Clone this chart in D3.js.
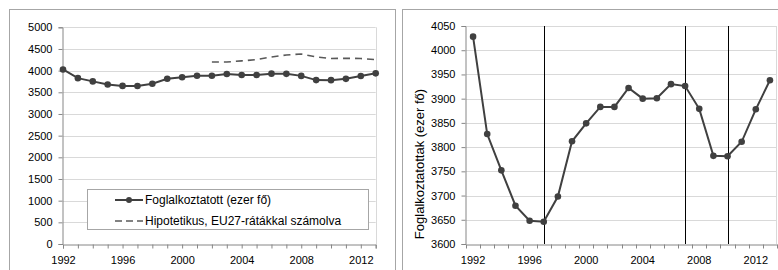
<!DOCTYPE html>
<html>
<head>
<meta charset="utf-8">
<script src="https://cdn.jsdelivr.net/npm/d3@7"></script>
<style>
  body { margin: 0; background: #fff; }
  svg { display: block; font-family: "Liberation Sans", Arial, sans-serif; }
</style>
</head>
<body>
<div id="container"></div>
<script>
// years and series
var years = d3.range(1992, 2014);
var employed = [4028, 3827, 3752, 3679, 3648, 3646, 3698, 3812, 3849, 3883, 3883,
                3922, 3900, 3901, 3930, 3926, 3879, 3782, 3781, 3811, 3878, 3938];
var hypoYears = d3.range(2002, 2014);
var hypothetical = [4200, 4200, 4225, 4255, 4315, 4360, 4385, 4315, 4280, 4285, 4280, 4255];
var leftTicksY = [0, 500, 1000, 1500, 2000, 2500, 3000, 3500, 4000, 4500, 5000];
var rightTicksY = [3600, 3650, 3700, 3750, 3800, 3850, 3900, 3950, 4000, 4050];
var labelYears = [1992, 1996, 2000, 2004, 2008, 2012];
var markerYears = [1997, 2007, 2010];
var legendLabels = ["Foglalkoztatott (ezer fő)", "Hipotetikus, EU27-rátákkal számolva"];
var yTitle = "Foglalkoztatottak (ezer fő)";

var width = 778, height = 270;
var lineColor = "#404040";
var gridColor = "#d9d9d9";
var axisColor = "#868686";

var svg = d3.select("#container")
    .append("svg")
    .attr("width", width)
    .attr("height", height);

// panel frames
svg.append("rect").attr("x", 9.5).attr("y", 9.5).attr("width", 386).attr("height", 300)
    .attr("fill", "none").attr("stroke", "#a6a6a6");
svg.append("rect").attr("x", 402.5).attr("y", 9.5).attr("width", 400).attr("height", 300)
    .attr("fill", "none").attr("stroke", "#a6a6a6");

function tickText(a) {
    a.attr("font-family", null);
    a.select(".domain").attr("stroke", axisColor);
    a.selectAll(".tick line").attr("stroke", axisColor);
    a.selectAll("text").attr("font-size", 11).attr("fill", "#000");
}

// ---------- left chart ----------
var L = {left: 63, right: 375.7, top: 27.3, bottom: 244};
var xL = d3.scaleLinear().domain([1992, 2013]).range([L.left, L.right]);
var yL = d3.scaleLinear().domain([0, 5000]).range([L.bottom, L.top]);
var gL = svg.append("g");

gL.selectAll(".grid").data(leftTicksY.slice(1)).enter().append("line")
    .attr("x1", L.left).attr("x2", L.right)
    .attr("y1", d => Math.round(yL(d)) + 0.5).attr("y2", d => Math.round(yL(d)) + 0.5)
    .attr("stroke", gridColor);
gL.append("line").attr("x1", Math.round(L.right) + 0.5).attr("x2", Math.round(L.right) + 0.5)
    .attr("y1", L.top).attr("y2", L.bottom).attr("stroke", gridColor);

var axLY = gL.append("g").attr("transform", "translate(" + (Math.round(L.left) - 0.5) + ",0)")
    .call(d3.axisLeft(yL).tickValues(leftTicksY).tickSize(4).tickPadding(6).tickFormat(d3.format("d")));
var axLX = gL.append("g").attr("transform", "translate(0," + (Math.round(L.bottom) + 0.5) + ")")
    .call(d3.axisBottom(xL).tickValues(years).tickSize(4).tickPadding(8)
        .tickFormat(d => labelYears.indexOf(d) >= 0 ? d : ""));
tickText(axLY);
tickText(axLX);

gL.append("path").datum(hypoYears)
    .attr("d", d3.line().x(d => xL(d)).y((d, i) => yL(hypothetical[i])))
    .attr("fill", "none").attr("stroke", "#595959").attr("stroke-width", 1.6)
    .attr("stroke-dasharray", "7,5");
gL.append("path").datum(years)
    .attr("d", d3.line().x(d => xL(d)).y((d, i) => yL(employed[i])))
    .attr("fill", "none").attr("stroke", lineColor).attr("stroke-width", 2);
gL.selectAll(".dot").data(years).enter().append("circle")
    .attr("cx", d => xL(d)).attr("cy", (d, i) => yL(employed[i])).attr("r", 3.3)
    .attr("fill", lineColor);

// legend
var lg = svg.append("g");
lg.append("rect").attr("x", 87.5).attr("y", 189.5).attr("width", 281).attr("height", 40)
    .attr("fill", "#fff").attr("stroke", "#a6a6a6");
lg.append("line").attr("x1", 115).attr("x2", 143).attr("y1", 200).attr("y2", 200)
    .attr("stroke", lineColor).attr("stroke-width", 2);
lg.append("circle").attr("cx", 129).attr("cy", 200).attr("r", 3).attr("fill", lineColor);
lg.append("line").attr("x1", 115).attr("x2", 143).attr("y1", 221).attr("y2", 221)
    .attr("stroke", "#595959").attr("stroke-width", 1.6).attr("stroke-dasharray", "7,4");
lg.selectAll(".lt").data(legendLabels).enter().append("text")
    .attr("x", 145).attr("y", (d, i) => 200 + i * 21).attr("dy", "0.35em")
    .attr("font-size", 12).attr("fill", "#000").text(d => d);

// ---------- right chart ----------
var R = {left: 466, right: 777, top: 26, bottom: 244};
var xR = d3.scaleBand().domain(years).range([R.left, R.right]);
var xC = d => xR(d) + xR.bandwidth() / 2;
var yR = d3.scaleLinear().domain([3600, 4050]).range([R.bottom, R.top]);
var gR = svg.append("g");

gR.selectAll(".grid").data(rightTicksY.slice(1)).enter().append("line")
    .attr("x1", R.left).attr("x2", R.right)
    .attr("y1", d => Math.round(yR(d)) + 0.5).attr("y2", d => Math.round(yR(d)) + 0.5)
    .attr("stroke", gridColor);
gR.append("line").attr("x1", R.right - 0.5).attr("x2", R.right - 0.5)
    .attr("y1", R.top).attr("y2", R.bottom).attr("stroke", gridColor);

gR.selectAll(".mark").data(markerYears).enter().append("line")
    .attr("x1", d => Math.round(xC(d)) + 0.5).attr("x2", d => Math.round(xC(d)) + 0.5)
    .attr("y1", R.top).attr("y2", R.bottom).attr("stroke", "#000").attr("stroke-width", 1);

var axRY = gR.append("g").attr("transform", "translate(" + (R.left - 0.5) + ",0)")
    .call(d3.axisLeft(yR).tickValues(rightTicksY).tickSize(4).tickPadding(6).tickFormat(d3.format("d")));
var axRX = gR.append("g").attr("transform", "translate(0," + (R.bottom + 0.5) + ")")
    .call(d3.axisBottom(xR).tickSize(0).tickPadding(12)
        .tickFormat(d => labelYears.indexOf(d) >= 0 ? d : ""));
axRX.selectAll(".bound").data(years.concat([2014])).enter().append("line")
    .attr("x1", (d, i) => Math.round(R.left + i * xR.step()) + 0.5)
    .attr("x2", (d, i) => Math.round(R.left + i * xR.step()) + 0.5)
    .attr("y1", 0).attr("y2", 4).attr("stroke", axisColor);
tickText(axRY);
tickText(axRX);

gR.append("path").datum(years)
    .attr("d", d3.line().x(d => xC(d)).y((d, i) => yR(employed[i])))
    .attr("fill", "none").attr("stroke", lineColor).attr("stroke-width", 2);
gR.selectAll(".dot").data(years).enter().append("circle")
    .attr("cx", d => xC(d)).attr("cy", (d, i) => yR(employed[i])).attr("r", 3.3)
    .attr("fill", lineColor);

svg.append("text")
    .attr("transform", "translate(424,164) rotate(-90)")
    .attr("text-anchor", "middle").attr("font-size", 13).attr("fill", "#000")
    .text(yTitle);
</script>
</body>
</html>
